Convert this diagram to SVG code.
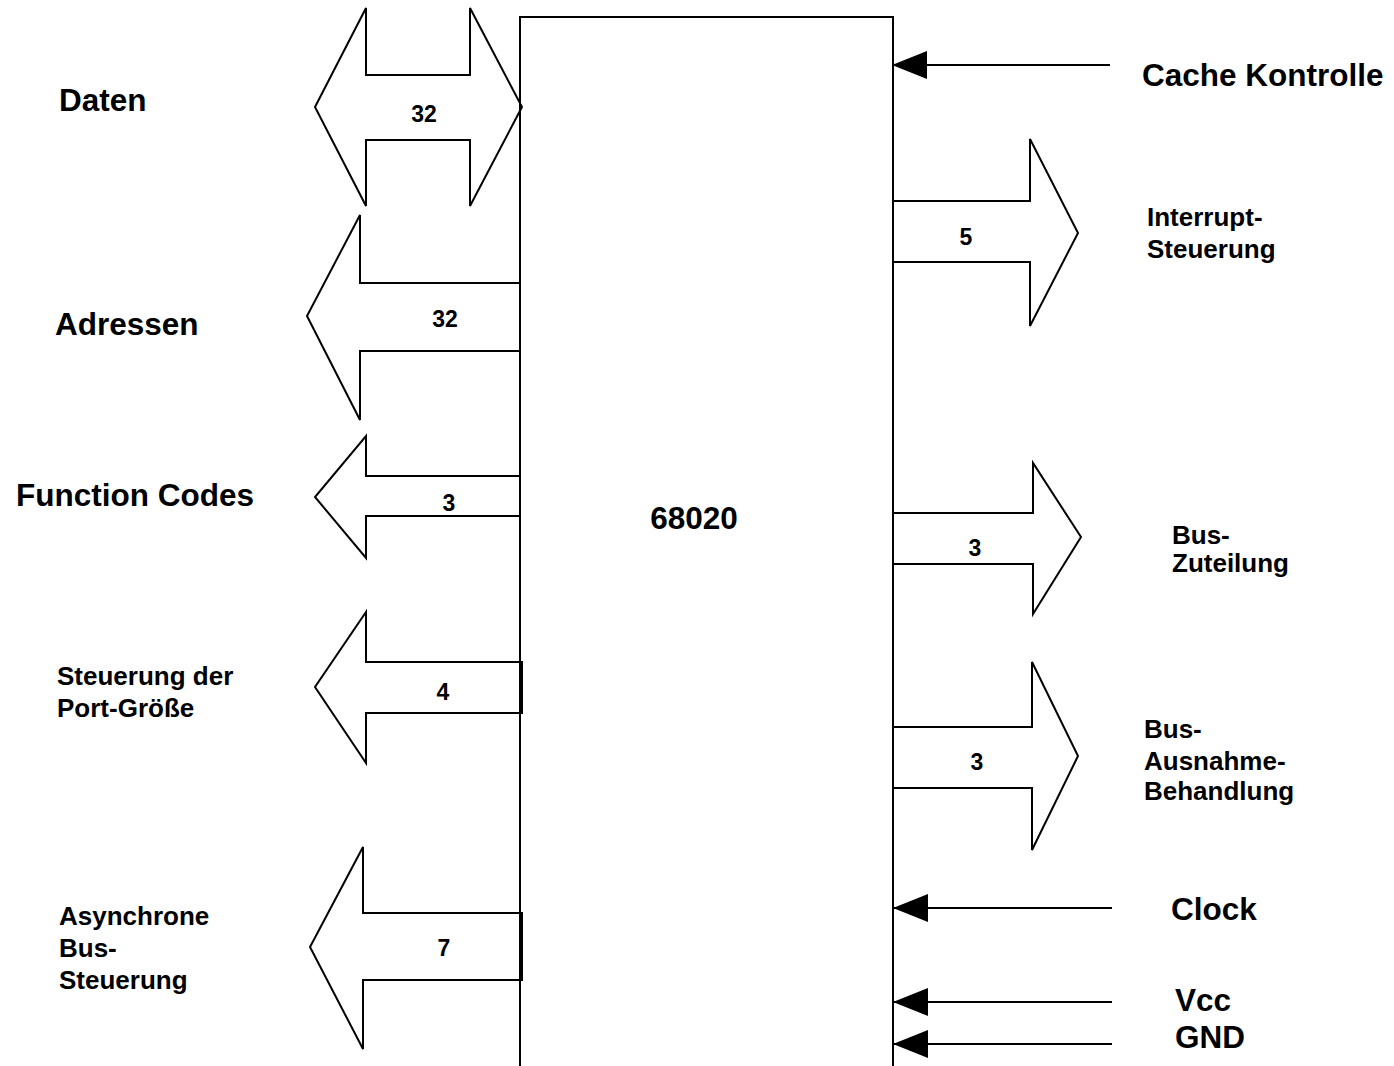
<svg xmlns="http://www.w3.org/2000/svg" width="1394" height="1066" viewBox="0 0 1394 1066">
<style>
.bus{fill:#fff;stroke:#000;stroke-width:2;stroke-linejoin:miter}
.ln{stroke:#000;stroke-width:2;fill:none}
.big{font-family:"Liberation Sans",Arial,sans-serif;font-weight:bold;font-size:31.5px;fill:#000}
.sm{font-family:"Liberation Sans",Arial,sans-serif;font-weight:bold;font-size:26px;fill:#000}
.num{font-family:"Liberation Sans",Arial,sans-serif;font-weight:bold;font-size:23px;fill:#000;text-anchor:middle}
</style>
<defs>
<marker id="ah" markerUnits="userSpaceOnUse" viewBox="0 0 35 28" refX="35" refY="14" markerWidth="35" markerHeight="28" orient="auto">
<path d="M0,0 L35,14 L0,28 z" fill="#000"/>
</marker>
</defs>
<rect width="1394" height="1066" fill="#fff"/>
<g id="daten">
<polygon class="bus" points="315,107 366,8 366,75 470,75 470,8 522,107 470,206 470,140 366,140 366,206"/>
<text class="num" x="424" y="122">32</text>
<text class="big" x="59" y="111">Daten</text>
</g>
<g id="adressen">
<polyline class="bus" points="520,283 360,283 360,215 307,316 360,420 360,351 520,351"/>
<text class="num" x="445" y="327">32</text>
<text class="big" x="55" y="335">Adressen</text>
</g>
<g id="fc">
<polyline class="bus" points="520,476 366,476 366,436 315,497 366,558 366,516 520,516"/>
<text class="num" x="449" y="511">3</text>
<text class="big" x="16" y="506">Function Codes</text>
</g>
<g id="port">
<polygon class="bus" points="522,662 366,662 366,612 315,687 366,763 366,713 522,713"/>
<text class="num" x="443" y="700">4</text>
<text class="sm" x="57" y="685">Steuerung der</text>
<text class="sm" x="57" y="717">Port-Größe</text>
</g>
<g id="async">
<polygon class="bus" points="522,913 363,913 363,847 310,947 363,1049 363,980 522,980"/>
<text class="num" x="444" y="956">7</text>
<text class="sm" x="59" y="925">Asynchrone</text>
<text class="sm" x="59" y="957">Bus-</text>
<text class="sm" x="59" y="989">Steuerung</text>
</g>
<g id="interrupt">
<polyline class="bus" points="893,201 1030,201 1030,139 1078,233 1030,326 1030,262 893,262"/>
<text class="num" x="966" y="245">5</text>
<text class="sm" x="1147" y="226">Interrupt-</text>
<text class="sm" x="1147" y="258">Steuerung</text>
</g>
<g id="buszuteilung">
<polyline class="bus" points="893,513 1033,513 1033,463 1081,537 1033,614 1033,564 893,564"/>
<text class="num" x="975" y="556">3</text>
<text class="sm" x="1172" y="544">Bus-</text>
<text class="sm" x="1172" y="572">Zuteilung</text>
</g>
<g id="busausnahme">
<polyline class="bus" points="893,727 1032,727 1032,662 1078,756 1032,850 1032,788 893,788"/>
<text class="num" x="977" y="770">3</text>
<text class="sm" x="1144" y="738">Bus-</text>
<text class="sm" x="1144" y="770">Ausnahme-</text>
<text class="sm" x="1144" y="800">Behandlung</text>
</g>
<g id="cpu">
<path class="ln" d="M520,1066 V17 H893 V1066"/>
<text class="big" x="694" y="529" text-anchor="middle">68020</text>
</g>
<g id="cache"><text class="big" x="1142" y="86">Cache Kontrolle</text></g>
<g id="clock"><text class="big" x="1171" y="920">Clock</text></g>
<g id="vcc"><text class="big" x="1175" y="1011">Vcc</text></g>
<g id="gnd"><text class="big" x="1175" y="1048">GND</text></g>
<g id="connectors">
<line class="ln" x1="1110" y1="65" x2="892" y2="65" marker-end="url(#ah)"/>
<line class="ln" x1="1112" y1="908" x2="893" y2="908" marker-end="url(#ah)"/>
<line class="ln" x1="1112" y1="1002" x2="893" y2="1002" marker-end="url(#ah)"/>
<line class="ln" x1="1112" y1="1044" x2="893" y2="1044" marker-end="url(#ah)"/>
</g>
</svg>
